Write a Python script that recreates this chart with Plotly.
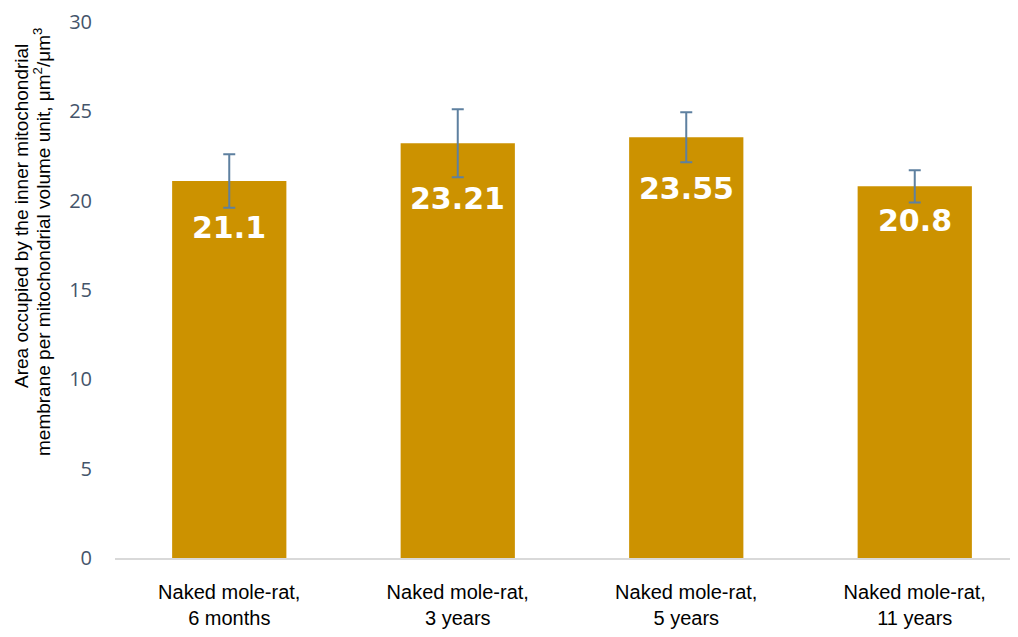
import plotly.graph_objects as go

categories = ["Naked mole-rat,<br>6 months", "Naked mole-rat,<br>3 years",
              "Naked mole-rat,<br>5 years", "Naked mole-rat,<br>11 years"]
values = [21.1, 23.21, 23.55, 20.8]
errors = [1.5, 1.9, 1.4, 0.9]
value_labels = ["21.1", "23.21", "23.55", "20.8"]
label_shifts = [-46, -55, -51, -34]

bar_color = "#CC9200"
err_color = "#5E80A0"

fig = go.Figure()
fig.add_trace(go.Bar(
    x=categories, y=values,
    marker=dict(color=bar_color, line=dict(width=0)),
    error_y=dict(type="data", array=errors, visible=True,
                 color=err_color, thickness=2, width=6),
    hoverinfo="skip",
))

for c, v, t, s in zip(categories, values, value_labels, label_shifts):
    fig.add_annotation(x=c, y=v, text=t, showarrow=False, yshift=s,
                       xanchor="center", yanchor="middle",
                       font=dict(family="DejaVu Sans", size=30, color="white",
                                 weight="bold"))

# page body has an 8px margin, so compensate in the figure margins
OFF = 8
W, H = 1018, 637
ml, mr, mt, mb = 115 - OFF, 0, 22 - OFF, 79 + OFF
pw = W - ml - mr
ph = H - mt - mb

def px_x(p):
    return (p - OFF - ml) / pw

def px_y(p):
    return (H - mb - (p - OFF)) / ph

title_font = dict(family="Liberation Sans, Arial", size=19, color="black")
fig.add_annotation(xref="paper", yref="paper", x=px_x(21), y=px_y(216),
                   text="Area occupied by the inner mitochondrial",
                   textangle=-90, showarrow=False, xanchor="center", yanchor="middle",
                   font=title_font)
fig.add_annotation(xref="paper", yref="paper", x=px_x(42), y=px_y(242),
                   text="membrane per mitochondrial volume unit, μm<sup>2</sup>/μm<sup>3</sup>",
                   textangle=-90, showarrow=False, xanchor="center", yanchor="middle",
                   font=title_font)

span = pw / 228.5
fig.update_layout(
    width=W, height=H,
    margin=dict(l=ml, r=mr, t=mt, b=mb, autoexpand=False),
    paper_bgcolor="white", plot_bgcolor="white",
    bargap=0.5,
    showlegend=False,
    xaxis=dict(range=[-0.5, -0.5 + span], showgrid=False, zeroline=False,
               showline=True, linecolor="#D9D9D9", linewidth=2,
               ticks="", ticklabelstandoff=15,
               tickfont=dict(family="Liberation Sans, Arial", size=20, color="black"),
               automargin=False),
    yaxis=dict(range=[0, 30], dtick=5, showgrid=False, zeroline=False,
               showline=False, ticks="", ticklabelstandoff=22,
               tickfont=dict(family="Open Sans", size=20, color="#44546A"),
               automargin=False),
)

fig.write_html("out.html")
